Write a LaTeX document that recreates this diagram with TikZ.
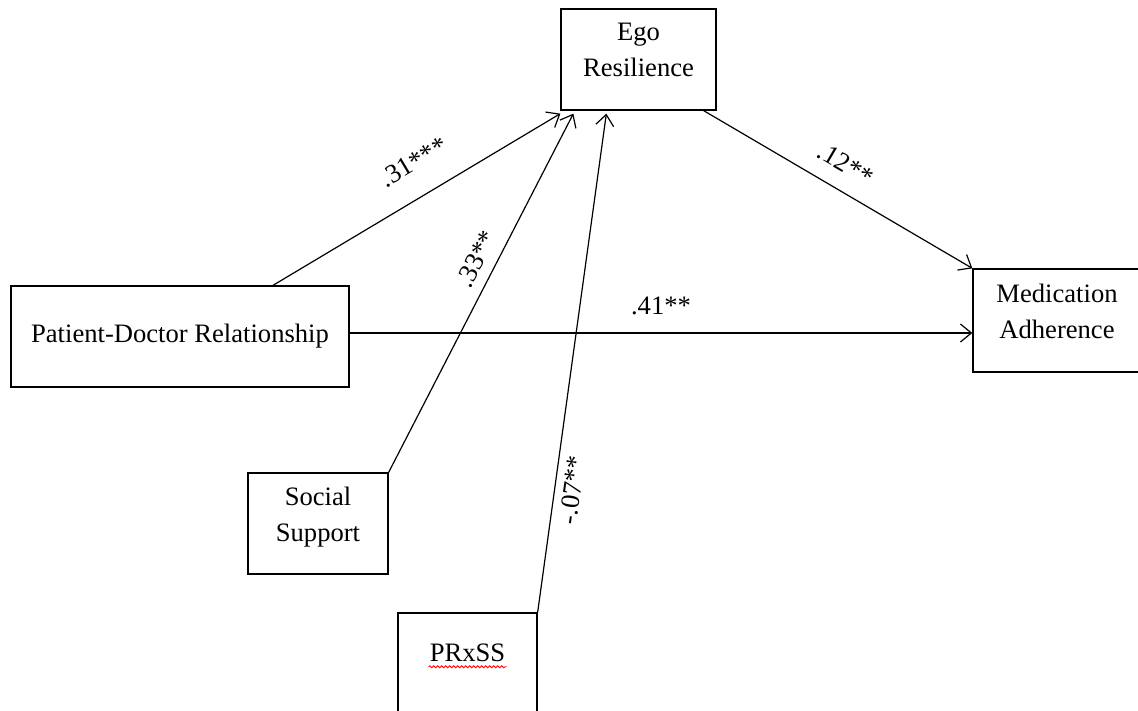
\documentclass[tikz,border=0pt]{standalone}
\usepackage{fontspec}
\setmainfont{Liberation Serif}
\usetikzlibrary{arrows.meta,decorations.pathmorphing}
\begin{document}
\begin{tikzpicture}[x=1pt,y=1pt,
  every node/.style={font=\fontsize{26.6}{36}\selectfont},
  var/.style={draw,line width=1.3pt,align=center,inner sep=0pt,minimum height=101pt},
  link/.style={line width=1.2pt,-{Straight Barb[length=11pt,width=18pt,line width=1.2pt]}},
  coef/.style={sloped,inner sep=#1},
  spell/.style={red,line width=0.8pt,decorate,decoration={snake,amplitude=1pt,segment length=4pt}}]
  \useasboundingbox (0,0) rectangle (1138,710);
  % variables
  \node[var,minimum width=155pt,text depth=19pt] (ego) at (638.5,650.5) {Ego\\Resilience};
  \node[var,minimum width=338pt] (pdr) at (180,373.5) {Patient-Doctor Relationship};
  \node[var,minimum width=168pt,minimum height=103pt,text depth=19pt] (med) at (1057,389.5) {Medication\\Adherence};
  \node[var,minimum width=140pt,text depth=19pt] (social) at (318,186.5) {Social\\Support};
  \node[var,minimum width=139pt,text depth=21pt] (prxss) at (467.5,46.5) {PRxSS};
  \draw[spell] ([xshift=-39pt,yshift=-5pt]prxss.base) -- ([xshift=39pt,yshift=-5pt]prxss.base);
  % paths
  \draw[link] ([xshift=93pt]pdr.north) -- node[coef=24pt,pos=0.55,anchor=south] {.31***} ([yshift=-3pt]ego.south west);
  \draw[link] (social.north east) -- node[coef=10pt,pos=0.57,anchor=south] {.33**} ([xshift=13pt,yshift=-3pt]ego.south west);
  \draw[link] (prxss.north east) -- node[coef=8pt,pos=0.25,anchor=north] {-.07**} ([xshift=46pt,yshift=-3pt]ego.south west);
  \draw[link] ([xshift=-13pt]ego.south east) -- node[coef=16pt,pos=0.48,anchor=south] {.12**} (med.north west);
  \draw[link] ([yshift=3.5pt]pdr.east) -- node[coef=18pt,pos=0.5,anchor=south] {.41**} ([yshift=3.5pt]pdr.east -| med.west);
\end{tikzpicture}
\end{document}
